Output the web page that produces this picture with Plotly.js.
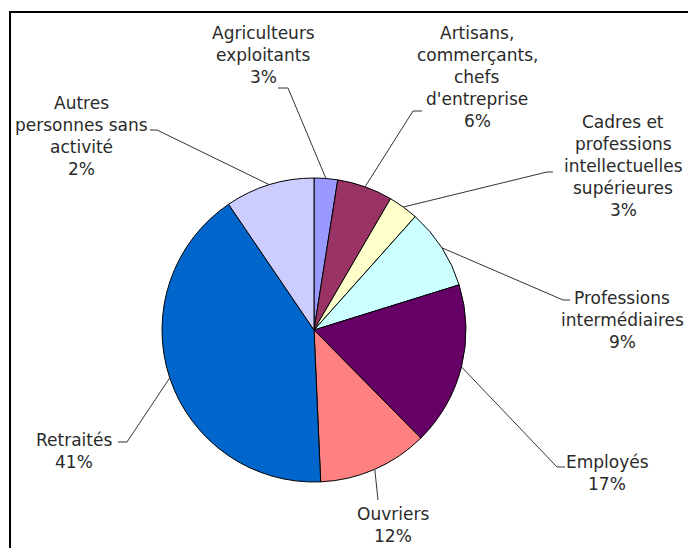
<!DOCTYPE html>
<html>
<head>
<meta charset="utf-8">
<script src="https://cdn.plot.ly/plotly-3.0.1.min.js"></script>
<style>html,body{margin:0;padding:0;background:#fff;}#chart{width:688px;height:548px;}</style>
</head>
<body>
<div id="chart"></div>
<script>
// ---- data ----
var categories = [
  "Agriculteurs exploitants",
  "Artisans, commerçants, chefs d'entreprise",
  "Cadres et professions intellectuelles supérieures",
  "Professions intermédiaires",
  "Employés",
  "Ouvriers",
  "Retraités",
  "Autres personnes sans activité"
];
// slice sizes as drawn in the picture
var values = [2.5, 5.9, 3.2, 8.6, 17.4, 11.7, 41.2, 9.5];
// percentages as printed on the labels
var pctLabels = ["3%", "6%", "3%", "9%", "17%", "12%", "41%", "2%"];
// label lines as printed
var labelLines = [
  ["Agriculteurs", "exploitants"],
  ["Artisans,", "commerçants,", "chefs", "d'entreprise"],
  ["Cadres et", "professions", "intellectuelles", "supérieures"],
  ["Professions", "intermédiaires"],
  ["Employés"],
  ["Ouvriers"],
  ["Retraités"],
  ["Autres", "personnes sans", "activité"]
];
var colors = ["#9999FF", "#993366", "#FFFFCC", "#CCFFFF", "#660066", "#FF8080", "#0066CC", "#CCCCFF"];

// ---- layout (pixels) ----
var W = 688, H = 548;
var cx = 314, cy = 330, R = 152;
// label placement: centre x, first line centre y, elbow [labelSideX, cornerX, y]
var labelPos = [
  {x: 263, y: 33,  elbow: [278, 288, 88]},
  {x: 477, y: 33,  elbow: [422, 413, 111]},
  {x: 623, y: 122, elbow: [553, 547, 172]},
  {x: 622, y: 298, elbow: [570, 563, 300]},
  {x: 607, y: 462, elbow: [565, 557, 467]},
  {x: 393, y: 514, elbow: [378, 378, 500]},
  {x: 74,  y: 440, elbow: [118, 127, 442]},
  {x: 81,  y: 103, elbow: [150, 157, 130]}
];
var lineH = 22;
function px(x) { return x / W; }
function py(y) { return 1 - y / H; }

var total = values.reduce(function (a, b) { return a + b; }, 0);
var annotations = [];
var shapes = [];
var cum = 0;
for (var i = 0; i < values.length; i++) {
  var mid = (cum + values[i] / 2) / total * 2 * Math.PI;
  cum += values[i];
  var sx = cx + R * Math.sin(mid), sy = cy - R * Math.cos(mid);
  var lp = labelPos[i];
  var e = lp.elbow;
  var path = 'M ' + px(e[0]) + ' ' + py(e[2]) + ' L ' + px(e[1]) + ' ' + py(e[2]) +
             ' L ' + px(sx) + ' ' + py(sy);
  shapes.push({type: 'path', xref: 'paper', yref: 'paper', path: path,
               line: {color: '#333333', width: 1}});
  var lines = labelLines[i].concat([pctLabels[i]]);
  for (var j = 0; j < lines.length; j++) {
    annotations.push({
      xref: 'paper', yref: 'paper', x: px(lp.x), y: py(lp.y + j * lineH),
      xanchor: 'center', yanchor: 'middle', showarrow: false, borderpad: 0,
      text: lines[j],
      font: {family: 'DejaVu Sans', size: 17, color: '#2a2a2a'}
    });
  }
}
// frame
shapes.push({type: 'rect', xref: 'paper', yref: 'paper',
             x0: px(10), x1: 1.02, y0: -0.02, y1: py(12),
             line: {color: '#000000', width: 2}, fillcolor: 'rgba(0,0,0,0)'});

var trace = {
  type: 'pie',
  labels: categories,
  values: values,
  sort: false,
  direction: 'clockwise',
  rotation: 0,
  textinfo: 'none',
  hoverinfo: 'label+percent',
  marker: {colors: colors, line: {color: '#000000', width: 1}},
  domain: {x: [px(cx - R), px(cx + R)], y: [py(cy + R), py(cy - R)]},
  showlegend: false
};

Plotly.newPlot('chart', [trace], {
  width: W, height: H,
  margin: {l: 0, r: 0, t: 0, b: 0},
  paper_bgcolor: '#ffffff',
  showlegend: false,
  annotations: annotations,
  shapes: shapes
}, {displayModeBar: false, staticPlot: true});
</script>
</body>
</html>
